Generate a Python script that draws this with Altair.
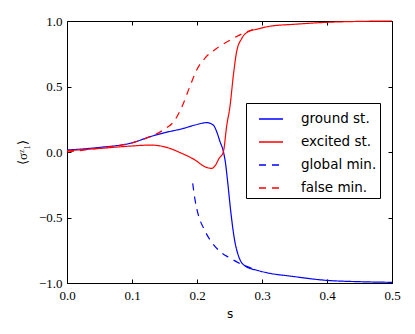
import altair as alt
import pandas as pd

labels = ["ground st.", "excited st.", "global min.", "false min."]

ground_s = [0, 0.05, 0.1, 0.128, 0.15, 0.179, 0.197, 0.215, 0.225, 0.2303, 0.2354, 0.2405, 0.244, 0.247, 0.2523, 0.2574, 0.2636, 0.274, 0.294, 0.312, 0.343, 0.4, 0.45, 0.5]
ground_y = [0.015, 0.035, 0.07, 0.117, 0.147, 0.18, 0.206, 0.224, 0.206, 0.155, 0.079, 0.005, -0.09, -0.22, -0.47, -0.66, -0.79, -0.87, -0.905, -0.926, -0.947, -0.98, -0.99, -0.995]

excited_s = [0, 0.05, 0.1, 0.128, 0.158, 0.174, 0.197, 0.212, 0.2226, 0.2287, 0.2338, 0.2405, 0.2457, 0.2508, 0.256, 0.261, 0.269, 0.279, 0.294, 0.312, 0.35, 0.4, 0.45, 0.5]
excited_y = [0.01, 0.027, 0.046, 0.053, 0.028, -0.005, -0.061, -0.112, -0.125, -0.099, -0.05, 0.0, 0.2, 0.35, 0.588, 0.766, 0.868, 0.918, 0.939, 0.96, 0.975, 0.99, 0.997, 1.0]

global_s = [0.1934, 0.197, 0.202, 0.21, 0.22, 0.2354, 0.251, 0.271, 0.286]
global_y = [-0.24, -0.366, -0.48, -0.58, -0.67, -0.76, -0.81, -0.863, -0.89]

false_s = [0, 0.05, 0.1, 0.128, 0.148, 0.166, 0.179, 0.189, 0.1995, 0.212, 0.23, 0.251, 0.271, 0.286]
false_y = [0.0, 0.03, 0.07, 0.117, 0.168, 0.244, 0.37, 0.5, 0.626, 0.715, 0.79, 0.855, 0.906, 0.935]

x_ticks = [0.0, 0.1, 0.2, 0.3, 0.4, 0.5]
y_ticks = [-1.0, -0.5, 0.0, 0.5, 1.0]

rows = []
for name, xs_, ys_ in zip(labels, [ground_s, excited_s, global_s, false_s],
                          [ground_y, excited_y, global_y, false_y]):
    for i, (a, b) in enumerate(zip(xs_, ys_)):
        rows.append({"series": name, "s": a, "v": b, "i": i})
df = pd.DataFrame(rows)

xs = alt.Scale(domain=[0, 0.5], nice=False, zero=False)
ys = alt.Scale(domain=[-1, 1], nice=False, zero=False)

serif = "Liberation Serif"

main = alt.Chart(df).mark_line(strokeWidth=1.2, interpolate="monotone").encode(
    x=alt.X("s:Q", scale=xs, axis=alt.Axis(values=x_ticks, format=".1f", tickSize=0, domain=False, grid=False,
                                            labelFlush=False, labelOverlap=False,
                                            labelPadding=6, title="s", titleFont="DejaVu Sans",
                                            titleFontSize=12, titleFontWeight="normal", titlePadding=6)),
    y=alt.Y("v:Q", scale=ys, axis=alt.Axis(values=y_ticks, format=".1f", tickSize=0, domain=False, grid=False,
                                            labelFlush=False, labelOverlap=False,
                                            labelPadding=5, title="⟨σᶻ₁⟩", titleFont=serif,
                                            titleFontSize=13, titleFontWeight="normal", titlePadding=9)),
    color=alt.Color("series:N", scale=alt.Scale(domain=labels, range=["#0000ff", "#ff0000", "#0000ff", "#ff0000"]),
                    legend=alt.Legend(title=None, orient="none", legendX=179, legendY=82)),
    strokeDash=alt.StrokeDash("series:N", scale=alt.Scale(domain=labels, range=[[1, 0], [1, 0], [7, 6], [7, 6]]),
                              legend=alt.Legend(title=None, orient="none", legendX=179, legendY=82)),
    order="i:Q",
)

ticks_a = alt.Chart(df).mark_line(opacity=0).encode(
    x=alt.X("s:Q", scale=xs, axis=alt.Axis(orient="bottom", offset=-4, values=x_ticks, tickSize=4, labels=False,
                                            domain=False, grid=False, title=None, tickColor="black")),
    y=alt.Y("v:Q", scale=ys, axis=alt.Axis(orient="left", offset=-4, values=y_ticks, tickSize=4, labels=False,
                                            domain=False, grid=False, title=None, tickColor="black")),
    detail="series:N",
)
ticks_b = alt.Chart(df).mark_line(opacity=0).encode(
    x=alt.X("s:Q", scale=xs, axis=alt.Axis(orient="top", offset=-4, values=x_ticks, tickSize=4, labels=False,
                                            domain=False, grid=False, title=None, tickColor="black")),
    y=alt.Y("v:Q", scale=ys, axis=alt.Axis(orient="right", offset=-4, values=y_ticks, tickSize=4, labels=False,
                                            domain=False, grid=False, title=None, tickColor="black")),
    detail="series:N",
)

chart = alt.layer(main, ticks_a, ticks_b).resolve_scale(x="independent", y="independent").properties(
    width=325, height=262,
    autosize=alt.AutoSizeParams(type="none"),
    padding={"left": 59, "top": 13, "right": 15, "bottom": 40},
).configure_view(stroke="black", strokeWidth=1).configure_axis(
    labelFont=serif, labelFontSize=13, labelColor="black"
).configure_legend(
    symbolType="stroke", symbolSize=576, symbolStrokeWidth=1.5, labelFont="DejaVu Sans", labelFontSize=13.5,
    labelColor="black", labelOffset=17, padding=3, symbolOffset=9, rowPadding=3,
    strokeColor="black", fillColor="white", cornerRadius=0, labelLimit=200
)

chart.save("out.html", embed_options={"renderer": "svg", "actions": False})
